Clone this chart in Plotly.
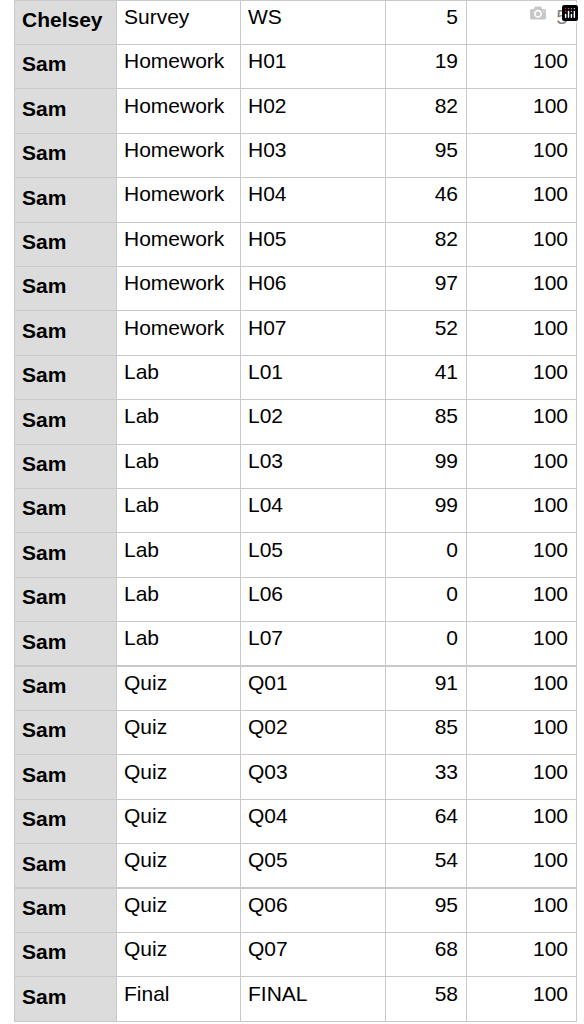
import plotly.graph_objects as go

names = ["Chelsey"] + ["Sam"] * 22
categories = ["Survey"] + ["Homework"] * 7 + ["Lab"] * 7 + ["Quiz"] * 7 + ["Final"]
items = ["WS", "H01", "H02", "H03", "H04", "H05", "H06", "H07",
         "L01", "L02", "L03", "L04", "L05", "L06", "L07",
         "Q01", "Q02", "Q03", "Q04", "Q05", "Q06", "Q07", "FINAL"]
scores = [5, 19, 82, 95, 46, 82, 97, 52, 41, 85, 99, 99, 0, 0, 0,
          91, 85, 33, 64, 54, 95, 68, 58]
max_points = [5] + [100] * 22

cols = [names, categories, items, scores, max_points]
head = [[c[0]] for c in cols]
body = [c[1:] for c in cols]

line = "#c9c9c9"
fills = ["#dcdcdc", "white", "white", "white", "white"]
aligns = ["left", "left", "left", "right", "right"]
fnt = dict(family="Liberation Sans, Arial, sans-serif", size=21, color="black")

fig = go.Figure(go.Table(
    domain=dict(x=[14 / 584, 576 / 584], y=[0, 1]),
    columnwidth=[102, 124, 145, 81, 110],
    header=dict(values=[f"<b>{h[0]}</b>" if i == 0 else h[0] for i, h in enumerate(head)],
                fill_color=fills, align=aligns, font=fnt, height=44.4,
                line=dict(color=line, width=1)),
    cells=dict(values=[[f"<b>{v}</b>" for v in body[0]]] + body[1:],
               fill_color=fills, align=aligns, font=fnt, height=44.4,
               line=dict(color=line, width=1)),
))
fig.update_layout(width=584, height=1024, margin=dict(l=0, r=0, t=0, b=0),
                  paper_bgcolor="white")
fig.write_html("out.html", post_script="document.body.style.margin='0';")
